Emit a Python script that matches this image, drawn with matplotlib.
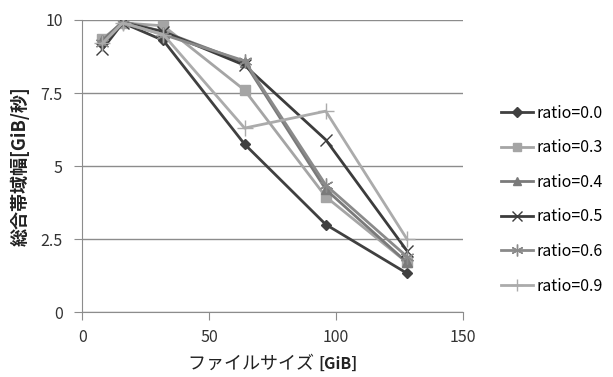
import matplotlib.pyplot as plt

plt.rcParams['font.family'] = ['Noto Sans CJK JP', 'DejaVu Sans']

sizes = [8, 16, 32, 64, 96, 128]
labels = ['ratio=0.0', 'ratio=0.3', 'ratio=0.4', 'ratio=0.5', 'ratio=0.6', 'ratio=0.9']
r00 = [9.2, 9.9, 9.3, 5.75, 3.0, 1.33]
r03 = [9.35, 9.9, 9.8, 7.6, 3.95, 1.7]
r04 = [9.3, 9.95, 9.6, 8.55, 4.2, 1.7]
r05 = [9.0, 9.9, 9.6, 8.45, 5.9, 2.1]
r06 = [9.2, 9.9, 9.5, 8.6, 4.35, 1.9]
r09 = [9.2, 9.9, 9.5, 6.3, 6.88, 2.5]

series = [r00, r03, r04, r05, r06, r09]
colors = ['#404040', '#a5a5a5', '#7a7a7a', '#3c3c3c', '#8a8a8a', '#ababab']
markers = ['D', 's', '^', 'x', (6, 2, 0), '+']
msizes = [5.5, 7.5, 7.5, 9, 10, 11]

fig = plt.figure(figsize=(6.13, 3.77), dpi=100)
ax = fig.add_axes([0.134, 0.172, 0.621, 0.775])

for ys, lab, c, m, ms in zip(series, labels, colors, markers, msizes):
    ax.plot(sizes, ys, color=c, marker=m, markersize=ms, linewidth=2.0,
            markeredgewidth=1.0, label=lab)

ax.set_xlim(0, 150)
ax.set_ylim(0, 10)
ax.set_xticks([0, 50, 100, 150])
ax.set_yticks([0, 2.5, 5, 7.5, 10])
ax.set_yticklabels(['0', '2.5', '5', '7.5', '10'])
ax.yaxis.grid(True, color='#8c8c8c', linewidth=1)
ax.set_axisbelow(True)
for s in ['top', 'right']:
    ax.spines[s].set_visible(False)
for s in ['left', 'bottom']:
    ax.spines[s].set_color('#8c8c8c')
ax.tick_params(colors='#8c8c8c', labelcolor='#333333', labelsize=11.5,
               direction='out', length=6)
ax.tick_params(axis='x', pad=6)
ax.tick_params(axis='y', pad=8)

ax.set_ylabel('総合帯域幅[GiB/秒]', fontsize=13, fontweight='bold',
              color='#222222', labelpad=8)
t1 = ax.text(0.62, -0.178, 'ファイルサイズ ', transform=ax.transAxes,
             ha='right', va='center', fontsize=13, color='#222222')
ax.annotate('[GiB]', xy=(1, 0.5), xycoords=t1, va='center', ha='left',
            fontsize=11.5, fontweight='bold', color='#222222')

ax.legend(loc='center left', bbox_to_anchor=(1.063, 0.385), frameon=False,
          fontsize=11.5, labelspacing=1.1, handlelength=2.0, handletextpad=0.2,
          markerscale=0.85)

fig.savefig('out.png', dpi=100)
